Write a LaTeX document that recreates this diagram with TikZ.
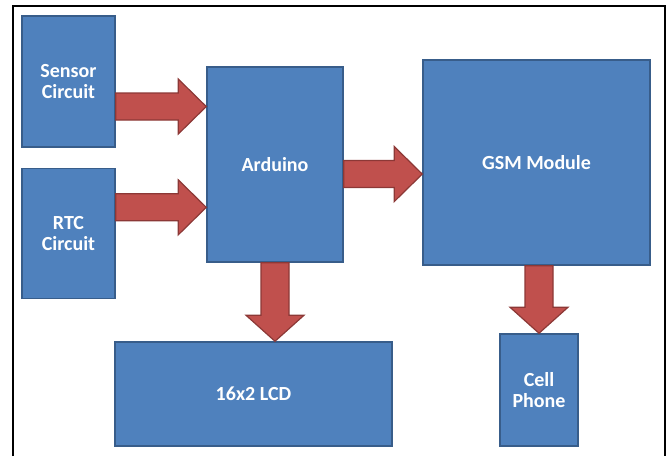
\documentclass[tikz,border=0pt]{standalone}
\usepackage{fontspec}
\setmainfont{Carlito}
\usetikzlibrary{positioning, calc}
\definecolor{cBox}{HTML}{4F81BD}
\definecolor{cBoxLine}{HTML}{385D8A}
\definecolor{cArrow}{HTML}{C0504D}
\definecolor{cArrowLine}{HTML}{8C3836}

\begin{document}
\begin{tikzpicture}[
  x=1pt, y=-1pt,
  every node/.style={font=\fontsize{20}{21.5}\selectfont\bfseries},
  block/.style={rectangle, draw=cBoxLine, line width=1.5pt, fill=cBox, text=white,
                align=center, inner sep=0pt},
  hfat/.style={draw=cArrowLine, line width=1.2pt, fill=cArrow, line join=miter,
               to path={let \p1=(\tikztostart), \p2=(\tikztotarget) in
                 (\x1,\y1+13.5pt) -- (\x2-28pt,\y1+13.5pt) -- (\x2-28pt,\y1+27.5pt) -- (\x2,\y1)
                 -- (\x2-28pt,\y1-27.5pt) -- (\x2-28pt,\y1-13.5pt) -- (\x1,\y1-13.5pt) -- cycle}},
  vfat/.style={draw=cArrowLine, line width=1.2pt, fill=cArrow, line join=miter,
               to path={let \p1=(\tikztostart), \p2=(\tikztotarget) in
                 (\x1-14pt,\y1) -- (\x1-14pt,\y2+26pt) -- (\x1-29pt,\y2+26pt) -- (\x1,\y2)
                 -- (\x1+29pt,\y2+26pt) -- (\x1+14pt,\y2+26pt) -- (\x1+14pt,\y1) -- cycle}},
]
\useasboundingbox (0,0) rectangle (669,456);

% Frame
\draw[line width=1.5pt] (13,456) -- (13,6) -- (665,6) -- (665,456);

% Blocks
\node[block, minimum width=93pt, minimum height=131pt] (sensor) at (68.5,81.5) {Sensor\\Circuit};
\node[block, minimum width=93pt, minimum height=130pt, below=20pt of sensor] (rtc) {RTC\\Circuit};
\node[block, minimum width=136pt, minimum height=195pt] (arduino) at (275,164.5) {Arduino};
\node[block, minimum width=227pt, minimum height=205pt] (gsm) at (536.5,162.5) {GSM Module};
\node[block, minimum width=277pt, minimum height=104pt] (lcd) at (253.5,394) {16x2 LCD};
\node[block, minimum width=78pt, minimum height=112pt] (cell) at (539,390) {Cell\\Phone};

% Arrow points
\coordinate (a1) at ($(arduino.north west)!0.205!(arduino.south west)$);
\coordinate (a2) at ($(arduino.north west)!0.718!(arduino.south west)$);
\coordinate (g1) at ($(gsm.north west)!0.556!(gsm.south west)$);

% Arrows
\draw[hfat] (sensor.east |- a1) to (a1);
\draw[hfat] (rtc.east |- a2) to (a2);
\draw[hfat] (arduino.east |- g1) to (g1);
\draw[vfat] (arduino.south) to (arduino.south |- lcd.north);
\draw[vfat] (gsm.south -| cell.north) to (cell.north);

\end{tikzpicture}
\end{document}
